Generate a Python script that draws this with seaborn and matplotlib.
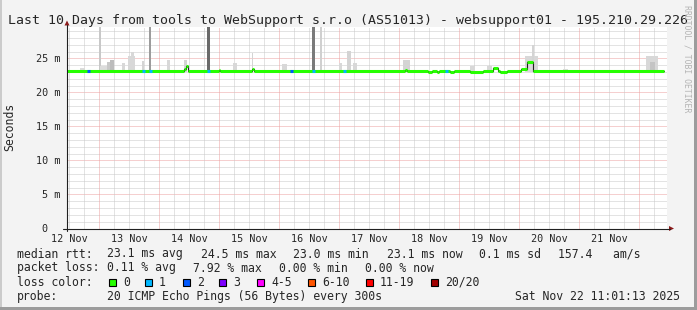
import numpy as np
import pandas as pd
import matplotlib
matplotlib.use("Agg")
import matplotlib.pyplot as plt
import seaborn as sns
from matplotlib.lines import Line2D
from matplotlib.patches import Rectangle, Polygon

# ---------------- data ----------------
title = "Last 10 Days from tools to WebSupport s.r.o (AS51013) - websupport01 - 195.210.29.226"
day_labels = ["12 Nov", "13 Nov", "14 Nov", "15 Nov", "16 Nov",
              "17 Nov", "18 Nov", "19 Nov", "20 Nov", "21 Nov"]
first_midnight_h = 12.98          # hours from graph start (Nov 12 11:01) to Nov 13 00:00
span_h = 240.0

# median rtt (ms), step breakpoints in hours since graph start
median_h = [0.0, 46.8, 47.6, 48.4, 60.8, 61.2, 74.0, 74.8, 135.2, 136.0,
            144.4, 146.0, 148.0, 148.8, 153.2, 154.8, 161.2, 166.4, 170.4,
            172.4, 173.2, 176.0, 181.6, 184.0, 186.4, 238.6]
median_v = [23.1, 23.5, 23.8, 23.1, 23.3, 23.1, 23.5, 23.1, 23.35, 23.1,
            23.0, 23.1, 23.0, 23.1, 23.0, 23.1, 23.0, 23.1, 23.65,
            23.1, 23.0, 23.1, 23.4, 24.5, 23.1, 23.1]

# samples with packet loss: start hour, lost pings
loss_h = [8.0, 30.0, 32.8, 56.0, 89.2, 98.0, 110.4, 151.2]
loss_n = [2, 1, 1, 1, 2, 1, 1, 1]

# smoke (ping spread): start hour, width hours, top ms, shade
smoke_h = [5.2, 12.8, 13.2, 16.0, 17.2, 22.0, 24.4, 25.6, 30.0, 32.8,
           40.0, 46.8, 56.0, 66.4, 74.0, 86.0, 98.0, 101.2, 108.8, 112.0,
           114.4, 134.4, 161.2, 168.0, 183.2, 186.0, 198.4, 231.6, 233.2]
smoke_w = [2.0, 0.6, 5.2, 2.4, 1.6, 1.2, 2.8, 1.2, 0.8, 0.8,
           1.2, 1.2, 1.2, 1.6, 0.4, 2.0, 1.2, 0.6, 1.2, 1.6,
           1.6, 2.8, 2.0, 2.0, 5.2, 0.6, 2.0, 4.8, 2.0]
smoke_top = [23.55, 29.6, 23.8, 24.4, 24.8, 24.3, 25.4, 26.0, 24.6, 29.6,
             24.7, 24.7, 29.6, 24.3, 25.8, 24.2, 29.6, 29.6, 24.3, 26.1,
             24.3, 24.8, 23.9, 23.9, 25.3, 27.0, 23.5, 25.3, 24.5]
smoke_shade = ["#dcdcdc", "#c8c8c8", "#dcdcdc", "#c8c8c8", "#bcbcbc", "#d8d8d8",
               "#d8d8d8", "#d8d8d8", "#d4d4d4", "#9c9c9c", "#d8d8d8", "#d4d4d4",
               "#6a6a6a", "#d8d8d8", "#d4d4d4", "#d8d8d8", "#7a7a7a", "#d0d0d0",
               "#d8d8d8", "#d4d4d4", "#d8d8d8", "#d4d4d4", "#d8d8d8", "#d8d8d8",
               "#d8d8d8", "#d4d4d4", "#dcdcdc", "#d8d8d8", "#c4c4c4"]

loss_levels = ["0", "1", "2", "3", "4-5", "6-10", "11-19", "20/20"]
loss_colors = ["#26ff00", "#00b8ff", "#0059ff", "#7e00ff", "#ff00ff",
               "#ff5500", "#ff0000", "#a10000"]

stats_rtt = ["23.1 ms avg", "24.5 ms max", "23.0 ms min", "23.1 ms now",
             "0.1 ms sd", "157.4   am/s"]
stats_loss = ["0.11 % avg", "7.92 % max", "0.00 % min", "0.00 % now"]
probe_text = "20 ICMP Echo Pings (56 Bytes) every 300s"
stamp = "Sat Nov 22 11:01:13 2025"

# ---------------- style ----------------
W, H = 697, 310
sns.set_style("white")
plt.rcParams["font.family"] = ["DejaVu Sans Mono"]

fig = plt.figure(figsize=(W / 100, H / 100), dpi=100, facecolor="#f3f3f3")

def fx(x):
    return x / W

def fy(y):
    return 1 - y / H

# plot canvas
x0, x1 = 67, 667
ybot, ytop = 228.5, 27.0
ymax = 29.6
ax = fig.add_axes([fx(x0), fy(ybot), (x1 - x0) / W, (ybot - ytop) / H])
ax.set_facecolor("white")
ax.set_xlim(0, span_h)
ax.set_ylim(0, ymax)
for s in ax.spines.values():
    s.set_visible(False)

# grid
dot = (0, (1, 1))
for v in range(1, 30):
    if v % 5:
        ax.axhline(v, color="#c8c8c8", lw=0.72, ls=dot, zorder=0)
for v in range(5, 30, 5):
    ax.axhline(v, color="#eda0a0", lw=0.72, ls=dot, zorder=0)
midnights = [first_midnight_h + 24 * i for i in range(10)]
sixes = [first_midnight_h - 12 + 6 * i for i in range(42)]
for t in sixes:
    if 0 < t < span_h and all(abs(t - m) > 0.1 for m in midnights):
        ax.axvline(t, color="#c8c8c8", lw=0.72, ls=dot, zorder=0)
for t in midnights:
    ax.axvline(t, color="#eda0a0", lw=0.72, ls=dot, zorder=0)

# smoke
sm = pd.DataFrame({"h": smoke_h, "w": smoke_w, "top": smoke_top, "c": smoke_shade})
ax.bar(sm["h"], sm["top"] - 22.95, bottom=22.95, width=sm["w"], align="edge",
       color=sm["c"], linewidth=0, zorder=2)

# median black step line
med = pd.DataFrame({"h": median_h, "v": median_v})
sns.lineplot(data=med, x="h", y="v", drawstyle="steps-post", color="#202020",
             lw=0.8, ax=ax, zorder=3)

# loss-coloured median band
band = 2.2
for i in range(len(median_h) - 1):
    ax.hlines(median_v[i], median_h[i], median_h[i + 1], color=loss_colors[0],
              lw=band, zorder=4)
for h0, n in zip(loss_h, loss_n):
    idx = max(i for i in range(len(median_h)) if median_h[i] <= h0)
    ax.hlines(median_v[idx], h0, h0 + 1.0, color=loss_colors[n], lw=band, zorder=5)

ax.set_xlabel("")
ax.set_ylabel("")

# ticks
noons = [first_midnight_h - 12 + 24 * i for i in range(10)]
ax.set_xticks(noons)
ax.set_xticklabels(day_labels, fontsize=7.3)
ax.tick_params(axis="x", which="major", length=0, pad=4.2)
ax.set_xticks(midnights, minor=True)
ax.tick_params(axis="x", which="minor", length=2.2, color="#de5050", width=0.7, direction="out")
ax.set_yticks([0, 5, 10, 15, 20, 25])
ax.set_yticklabels(["0  ", "5 m", "10 m", "15 m", "20 m", "25 m"], fontsize=7.3)
ax.tick_params(axis="y", length=0, pad=5.0)

# axes with arrows
axis_col = "#202020"
arrow_col = "#8b1a1a"
fig.add_artist(Line2D([fx(67), fx(67)], [fy(230.5), fy(25)], color=axis_col, lw=0.8))
fig.add_artist(Line2D([fx(63), fx(670)], [fy(228.5), fy(228.5)], color=axis_col, lw=0.8))
fig.add_artist(Polygon([(fx(64.5), fy(25.5)), (fx(69.5), fy(25.5)), (fx(67), fy(20.5))],
                       closed=True, color=arrow_col, lw=0, transform=fig.transFigure))
fig.add_artist(Polygon([(fx(669), fy(226)), (fx(669), fy(231)), (fx(674), fy(228.5))],
                       closed=True, color=arrow_col, lw=0, transform=fig.transFigure))

# texts
fig.text(fx(8), fy(24), title, fontsize=9.56, ha="left", va="baseline")
fig.text(fx(10), fy(126.5), "Seconds", fontsize=8.3, rotation=90, ha="center", va="center")
fig.text(fx(687), fy(59), "RRDTOOL / TOBI OETIKER", fontsize=5.9, rotation=270,
         ha="center", va="center", color="#b4b4b4")

fs = 8.3
rows = [257.5, 271.5, 285.5, 300.0]
fig.text(fx(17), fy(rows[0]), "median rtt:", fontsize=fs, va="baseline")
for xpos, s in zip([107, 201, 293, 387, 479, 558], stats_rtt):
    fig.text(fx(xpos), fy(rows[0]), s, fontsize=fs, va="baseline")
fig.text(fx(17), fy(rows[1]), "packet loss:", fontsize=fs, va="baseline")
for xpos, s in zip([107, 193, 279, 365], stats_loss):
    fig.text(fx(xpos), fy(rows[1]), s, fontsize=fs, va="baseline")
fig.text(fx(17), fy(rows[2]), "loss color:", fontsize=fs, va="baseline")
box_x = [109, 145, 183, 219, 257, 308, 366, 431]
for bx, lab, col in zip(box_x, loss_levels, loss_colors):
    fig.add_artist(Rectangle((fx(bx), fy(285.5)), 7 / W, 7 / H, facecolor=col,
                             edgecolor="black", lw=0.8, transform=fig.transFigure))
    fig.text(fx(bx + 14), fy(rows[2]), lab, fontsize=fs, va="baseline")
fig.text(fx(17), fy(rows[3]), "probe:", fontsize=fs, va="baseline")
fig.text(fx(107), fy(rows[3]), probe_text, fontsize=fs, va="baseline")
fig.text(fx(680), fy(rows[3]), stamp, fontsize=fs, va="baseline", ha="right")

# 3D frame
fig.add_artist(Rectangle((0, 0), 1, 2 / H, color="#cbcbcb", transform=fig.transFigure, lw=0))
fig.add_artist(Rectangle((0, 0), 2 / W, 1, color="#cbcbcb", transform=fig.transFigure, lw=0))
fig.add_artist(Rectangle((0, 0), 1, 3 / H, color="#9c9c9c", transform=fig.transFigure, lw=0))
fig.add_artist(Rectangle((1 - 3 / W, 0), 3 / W, 1, color="#9c9c9c", transform=fig.transFigure, lw=0))

fig.savefig("out.png", dpi=100, facecolor=fig.get_facecolor())
